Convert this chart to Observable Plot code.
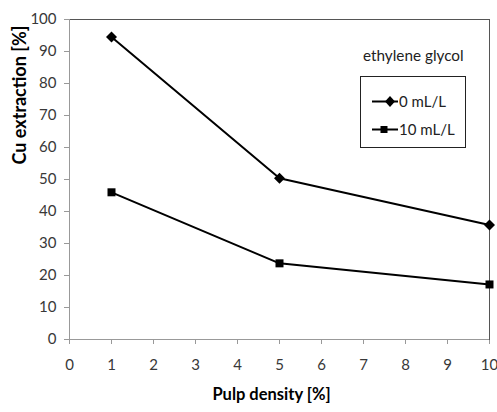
<!DOCTYPE html>
<html><head><meta charset="utf-8">
<script src="https://cdn.jsdelivr.net/npm/d3@7"></script>
<script src="https://cdn.jsdelivr.net/npm/@observablehq/plot@0.6"></script>
<style>
body{margin:0;background:#fff;font-family:Lato,"Open Sans",sans-serif;}
#wrap{position:relative;width:497px;height:412px;}
#chart svg{display:block;}
#legendTitle{position:absolute;left:363px;top:46px;font-size:15.3px;line-height:18px;color:#222;white-space:nowrap;}
#legend{position:absolute;left:360px;top:76px;width:106px;height:72px;border:1px solid #222;box-sizing:border-box;}
.item{position:absolute;left:11px;font-size:15px;line-height:18px;color:#222;display:flex;align-items:center;white-space:nowrap;}
.item svg{margin-right:1px;}
</style></head>
<body><div id="wrap"><div id="chart"></div>
<div id="legendTitle"></div>
<div id="legend"></div></div>
<script>
const pulpDensity = [1, 5, 10];
const eg0 = [94.5, 50.4, 35.8];
const eg10 = [46.0, 23.8, 17.2];
const seriesNames = ["0 mL/L", "10 mL/L"];
const legendTitle = "ethylene glycol";
const xTitle = "Pulp density [%]";
const yTitle = "Cu extraction [%]";
const xTicks = [0,1,2,3,4,5,6,7,8,9,10];
const yTicks = [0,10,20,30,40,50,60,70,80,90,100];

const data = [];
pulpDensity.forEach((x,i)=>{
  data.push({x, y: eg0[i], s: seriesNames[0]});
  data.push({x, y: eg10[i], s: seriesNames[1]});
});
const diamondSym = {draw(ctx){ctx.moveTo(0,-5.5);ctx.lineTo(5.5,0);ctx.lineTo(0,5.5);ctx.lineTo(-5.5,0);ctx.closePath();}};
const squareSym = {draw(ctx){ctx.moveTo(-4,-4);ctx.lineTo(4,-4);ctx.lineTo(4,4);ctx.lineTo(-4,4);ctx.closePath();}};
const symbolOf = {[seriesNames[0]]:diamondSym, [seriesNames[1]]:squareSym};

const chart = Plot.plot({
  width: 497, height: 412,
  marginLeft: 69, marginRight: 8, marginTop: 19, marginBottom: 73,
  style:{fontFamily:"Lato, 'Open Sans', sans-serif", fontSize:"15px", color:"#383838", background:"#fff"},
  x:{domain:[0,10], ticks:xTicks, tickSize:5, tickPadding:15, label:null},
  y:{domain:[0,100], ticks:yTicks, tickSize:5, tickPadding:8, label:null},
  marks:[
    Plot.frame({stroke:"#555", strokeWidth:1}),
    Plot.ruleY([0],{stroke:"#999"}),
    Plot.ruleX([0],{stroke:"#999"}),
    Plot.line(data,{x:"x", y:"y", z:"s", stroke:"#000", strokeWidth:2}),
    Plot.dot(data,{x:"x", y:"y", symbol:d=>symbolOf[d.s], r:5, fill:"#000", stroke:"none"}),
    Plot.text([xTitle],{frameAnchor:"bottom", dx:-8, dy:60, fontWeight:"bold", fontSize:16.5, fill:"#000"}),
    Plot.text([yTitle],{frameAnchor:"left", dx:-49, dy:-15, rotate:-90, fontWeight:"bold", fontSize:18, fill:"#000"})
  ]
});
document.getElementById("chart").appendChild(chart);
chart.querySelectorAll('g[aria-label="x-axis tick"], g[aria-label="y-axis tick"]').forEach(g=>g.setAttribute("stroke","#999"));

document.getElementById("legendTitle").textContent = legendTitle;
const lg = document.getElementById("legend");
seriesNames.forEach((n,i)=>{
  const div = document.createElement("div");
  div.className="item";
  div.style.top = (i===0? 15 : 43)+"px";
  const shape = i===0
    ? '<path d="M18,0 L23,5.5 L18,11 L13,5.5Z" fill="#000"/>'
    : '<rect x="8.5" y="2" width="7" height="7" fill="#000"/>';
  div.innerHTML = '<svg width="26" height="11"><line x1="0" x2="26" y1="5.5" y2="5.5" stroke="#000" stroke-width="2"/>'+shape+'</svg>';
  const t = document.createElement("span"); t.textContent = n; div.appendChild(t);
  lg.appendChild(div);
});
</script></body></html>
